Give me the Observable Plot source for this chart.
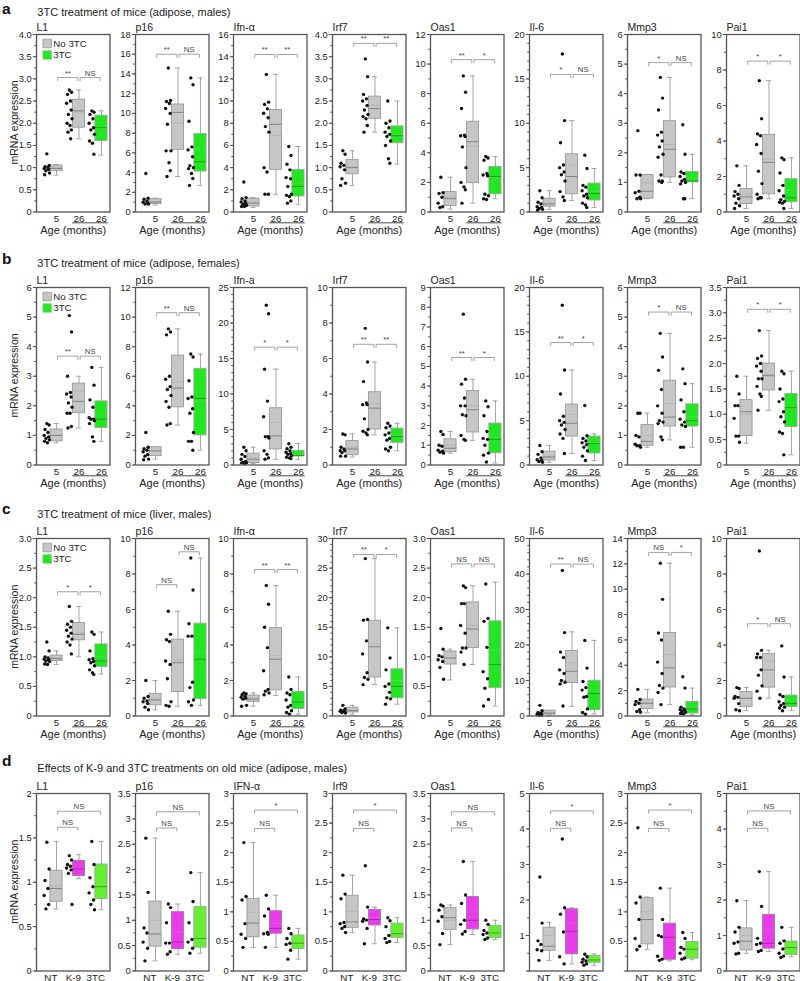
<!DOCTYPE html>
<html><head><meta charset="utf-8">
<script src="https://cdn.jsdelivr.net/npm/d3@7"></script>
<script src="https://cdn.jsdelivr.net/npm/@observablehq/plot@0.6"></script>
<style>
body{margin:0;background:#fff;width:800px;height:981px;overflow:hidden;position:relative;font-family:"Liberation Sans",Arial,sans-serif;}
.panel{position:absolute;overflow:visible;}
.panel svg{max-width:none !important;}
#overlay{position:absolute;left:0;top:0;}
</style></head><body>
<svg id="overlay" width="800" height="981"></svg>
<script>
// ---------------- DATA ----------------
const rowLetters = ["a","b","c","d"];
const rowTitles = [
  "3TC treatment of mice (adipose, males)",
  "3TC treatment of mice (adipose, females)",
  "3TC treatment of mice (liver, males)",
  "Effects of K-9 and 3TC treatments on old mice (adipose, males)"
];
const yAxisTitle = "mRNA expression";
const ageTitle = "Age (months)";
const xLabelsABC = ["5","26","26"];
const xLabelsD = ["NT","K-9","3TC"];
const legendLabels = ["No 3TC","3TC"];

// ---- Row a ----
const genesA = ["L1","p16","Ifn-α","Irf7","Oas1","Il-6","Mmp3","Pai1"];
const yMaxA = [4,18,16,4,12,20,6,10];
const yStepA = [0.5,2,2,0.5,2,5,1,2];
const pointsA = [
 [[1.31,1.05,1.02,1.0,0.98,0.96,0.93,0.88,0.84],[2.75,2.7,2.65,2.5,2.45,2.3,2.2,2.1,2.0,1.95,1.85,1.8,1.65],[2.28,2.25,2.2,2.1,2.0,1.9,1.85,1.75,1.6,1.55,1.3]],
 [[3.9,1.4,1.3,1.1,1.0,0.9,0.8,0.8],[14.6,11.3,11.2,11.0,10.5,10.0,8.9,6.2,6.2,5.0,4.2,3.6],[13.6,12.9,9.2,6.6,6.3,5.6,4.7,4.5,4.4,3.9,3.4,2.7]],
 [[2.7,1.3,1.2,1.0,0.9,0.8,0.7,0.6,0.5,0.5,0.6],[12.4,9.9,9.7,9.3,8.9,8.5,7.7,7.2,4.0,3.6,1.6,1.6],[5.9,5.1,4.3,3.8,3.1,3.0,2.3,1.6,1.5,1.4,1.0,0.8]],
 [[1.38,1.3,1.1,1.05,1.02,0.95,0.75,0.65,0.6],[3.45,3.05,2.65,2.55,2.5,2.4,2.3,2.2,2.15,2.1,1.95,1.8],[2.5,2.05,2.0,1.9,1.8,1.75,1.7,1.6,1.5,1.2,1.1]],
 [[2.35,1.3,1.25,1.0,0.6,0.35,0.3],[9.2,8.1,7.0,5.2,5.15,5.1,4.4,3.0,2.0,1.7,1.5,0.6],[3.75,3.65,3.5,2.6,2.5,2.45,1.2,1.1,0.9,0.85]],
 [[2.4,1.6,1.1,0.9,0.6,0.5,0.4,0.3,0.2],[17.8,10.3,7.8,5.3,5.0,4.5,4.2,3.5,2.3,1.7,1.3],[6.4,4.9,3.0,2.8,2.4,2.0,1.8,1.6,1.0,0.8,0.5]],
 [[2.75,1.25,1.25,0.7,0.65,0.5,0.45,0.45],[4.55,3.85,3.45,2.7,2.6,2.4,2.2,1.95,1.85,1.25,1.05,1.05,1.0],[2.95,1.95,1.35,1.3,1.2,1.1,1.05,1.0,0.95,0.45,0.45]],
 [[2.6,1.5,1.15,1.0,0.9,0.75,0.5,0.35,0.2],[7.4,5.25,4.4,4.3,3.8,3.3,2.3,1.6,1.0,0.8,0.8,0.75],[3.05,2.95,2.2,1.5,1.2,0.9,0.7,0.6,0.55,0.5,0.2]]
];
// [min, q1, median, mean, q3, max]
const boxesA = [
 [[0.83,0.92,0.98,1.0,1.05,1.07],[1.65,1.9,2.28,2.25,2.53,2.75],[1.28,1.6,1.9,1.88,2.17,2.28]],
 [[0.7,0.8,1.0,1.05,1.3,1.4],[3.6,6.3,10.1,9.0,10.9,14.6],[2.7,4.1,5.1,6.4,7.9,13.6]],
 [[0.4,0.5,0.8,0.9,1.2,1.3],[1.6,3.8,7.9,6.9,9.2,12.4],[0.7,1.4,2.3,2.6,3.8,5.9]],
 [[0.6,0.85,1.0,1.02,1.17,1.38],[1.8,2.1,2.33,2.4,2.6,3.05],[1.08,1.55,1.72,1.75,1.93,2.5]],
 [[0.2,0.4,0.9,1.0,1.35,2.35],[0.6,1.95,4.75,4.45,6.1,9.2],[0.9,1.2,2.4,2.3,3.05,3.75]],
 [[0.3,0.6,0.9,1.0,1.5,2.4],[1.3,2.0,4.0,5.3,6.5,10.3],[0.5,1.3,2.1,2.3,3.2,4.9]],
 [[0.45,0.45,0.7,0.98,1.25,1.25],[1.0,1.17,2.12,2.28,3.07,4.55],[0.45,1.0,1.05,1.13,1.35,1.95]],
 [[0.2,0.45,0.85,1.0,1.3,2.6],[0.75,1.0,2.8,2.98,4.35,7.4],[0.2,0.55,0.8,1.25,1.85,3.05]]
];
const sigA = [
 [[3.03,"**"],[3.03,"NS"]],[[16.0,"**"],[16.0,"NS"]],[[14.2,"**"],[14.2,"**"]],[[3.8,"**"],[3.8,"**"]],
 [[10.3,"**"],[10.3,"*"]],[[15.5,"*"],[15.5,"NS"]],[[5.05,"*"],[5.05,"NS"]],[[8.5,"*"],[8.5,"*"]]
];

// ---- Row b ----
const genesB = ["L1","p16","Ifn-a","Irf7","Oas1","Il-6","Mmp3","Pai1"];
const yMaxB = [6,12,25,10,9,20,6,3.5];
const yStepB = [1,2,5,2,1,5,1,0.5];
const pointsB = [
 [[1.4,1.35,1.2,1.1,1.0,0.95,0.9,0.85,0.8,0.75],[5.05,4.5,3.0,2.45,2.4,2.3,2.1,1.95,1.75,1.75,1.3,1.25],[3.3,2.7,2.2,1.95,1.6,1.55,1.55,1.5,1.4,0.95,0.8]],
 [[2.2,1.2,1.1,1.0,0.9,0.7,0.6,0.4,0.35],[9.2,9.0,8.8,6.0,5.8,5.3,5.1,4.7,4.3,3.9,2.8,2.7],[7.5,7.3,5.7,4.6,4.5,3.8,3.5,2.2,1.6,1.6,1.0]],
 [[2.5,2.0,1.5,1.2,0.8,0.5,0.4,0.3,0.3,0.2],[22.5,21.3,13.5,9.0,6.8,4.0,4.0,3.8,2.0,1.5,1.0,0.8],[3.0,2.5,2.3,2.0,1.8,1.6,1.5,1.3,1.1,1.0,0.9]],
 [[1.75,1.7,1.0,0.9,0.8,0.8,0.7,0.5,0.5],[7.7,5.8,4.7,3.5,3.4,3.4,2.6,2.0,1.9,1.8,1.7],[2.35,2.2,2.1,1.8,1.7,1.5,1.4,1.0,0.9,0.8]],
 [[1.7,1.55,1.0,0.95,0.75,0.7,0.65,0.6],[7.65,4.35,4.1,3.4,3.0,3.0,2.55,2.5,1.5,1.3,1.25],[3.25,2.95,2.5,1.7,1.35,1.3,1.0,0.6,0.5,0.15]],
 [[2.2,1.5,1.2,0.8,0.6,0.5,0.4,0.3],[18.0,10.7,8.0,5.5,5.0,4.8,4.5,4.0,3.5,3.0,1.3],[6.7,3.3,3.0,2.7,2.5,2.3,2.0,1.6,1.0,0.5]],
 [[1.75,1.75,1.0,0.95,0.7,0.65,0.65,0.6],[4.45,3.65,3.2,2.55,2.0,1.75,1.5,1.45,1.4,0.95,0.85],[3.25,2.75,2.2,1.8,1.55,1.45,1.35,1.3,0.6,0.6]],
 [[1.75,1.4,1.17,1.17,0.92,0.57,0.57,0.45],[2.65,2.15,2.1,2.0,1.95,1.85,1.7,1.7,1.55,1.4,1.35,1.08],[1.85,1.8,1.5,1.3,1.25,1.05,0.95,0.85,0.65,0.62,0.2]]
];
const boxesB = [
 [[0.75,0.8,1.0,1.0,1.2,1.4],[1.25,1.75,2.15,2.5,2.75,3.0],[0.8,1.25,1.55,1.7,2.15,3.3]],
 [[0.4,0.6,0.95,1.0,1.2,1.2],[2.7,3.9,5.2,5.6,7.4,9.2],[1.0,2.0,4.5,4.35,6.5,7.5]],
 [[0.2,0.3,0.8,1.0,1.6,2.5],[0.8,2.2,4.1,6.0,8.0,13.5],[0.8,1.2,1.35,1.5,2.0,3.0]],
 [[0.45,0.55,0.9,1.0,1.35,1.75],[1.7,2.0,3.2,3.45,4.1,5.8],[0.8,1.25,1.6,1.7,2.05,2.35]],
 [[0.6,0.65,0.85,1.0,1.3,1.7],[1.25,1.65,2.8,3.0,3.75,4.35],[0.1,0.6,1.3,1.4,2.1,3.25]],
 [[0.3,0.5,0.9,1.0,1.5,2.2],[1.3,3.2,4.7,5.7,6.8,10.7],[0.5,1.3,2.4,2.5,3.2,3.5]],
 [[0.6,0.65,0.8,1.0,1.35,1.75],[0.85,1.3,1.62,2.08,2.85,4.45],[0.6,1.3,1.5,1.65,2.05,2.75]],
 [[0.43,0.57,1.05,1.0,1.28,1.75],[1.08,1.47,1.77,1.75,2.0,2.65],[0.2,0.75,1.13,1.12,1.4,1.85]]
];
const sigB = [
 [[3.68,"**"],[3.68,"NS"]],[[10.3,"**"],[10.3,"NS"]],[[16.6,"*"],[16.6,"*"]],[[6.8,"**"],[6.8,"**"]],
 [[5.45,"**"],[5.45,"*"]],[[13.8,"**"],[13.8,"*"]],[[5.17,"*"],[5.17,"NS"]],[[3.07,"*"],[3.07,"*"]]
];

// ---- Row c ----
const genesC = ["L1","p16","Ifn-α","Irf7","Oas1","Il-6","Mmp3","Pai1"];
const yMaxC = [3,10,10,30,3,50,14,10];
const yStepC = [0.5,2,2,5,0.5,10,2,2];
const pointsC = [
 [[1.25,1.1,1.0,0.98,0.96,0.95,0.93,0.92,0.88,0.87],[1.85,1.6,1.55,1.5,1.45,1.4,1.35,1.3,1.25,1.2,1.05],[1.42,1.38,1.1,0.97,0.95,0.92,0.9,0.85,0.78,0.73,0.7]],
 [[2.0,1.1,1.0,0.85,0.8,0.7,0.5,0.35],[5.9,4.6,4.3,4.2,3.1,2.9,2.1,0.8,0.6,0.55],[8.9,7.1,5.2,4.5,4.5,1.9,1.6,0.9,0.8,0.6]],
 [[1.3,1.25,1.2,1.1,1.05,1.0,0.95,0.6,0.55],[7.35,6.3,5.0,3.85,2.55,1.5,1.4,1.3,1.2],[2.2,1.5,1.3,1.2,0.9,0.6,0.5,0.3,0.2,0.1]],
 [[1.8,1.2,1.0,0.9,0.8,0.7,0.6,0.5],[26.6,16.3,16.2,12.7,10.5,7.3,6.5,6.2,5.3],[14.9,9.8,7.8,5.4,5.0,4.0,3.1,2.9,2.0]],
 [[1.48,1.13,1.02,1.0,0.95,0.92,0.82,0.62],[2.2,2.17,1.9,1.9,1.53,1.4,1.15,1.15,1.08,0.87],[2.23,1.65,1.6,1.16,0.75,0.63,0.47,0.28,0.17]],
 [[3.0,1.5,1.0,0.8,0.5,0.3,0.2],[41.0,23.5,18.0,16.5,13.0,12.0,10.0,9.5,9.0,2.8],[21.3,13.5,9.7,8.0,7.3,5.5,5.3,2.0,1.0,0.5]],
 [[2.1,1.3,1.15,1.0,0.9,0.5,0.35,0.3],[12.05,9.2,6.55,6.0,4.25,3.35,2.4,2.2,1.85,0.9],[3.1,2.2,0.7,0.55,0.5,0.45,0.35,0.3,0.2,0.15]],
 [[1.6,1.55,1.1,1.05,1.0,0.7,0.35,0.3],[9.3,3.7,3.5,3.3,3.3,2.6,2.3,1.7,1.4,1.0],[3.95,2.2,1.2,1.1,0.8,0.7,0.6,0.5,0.45,0.3]]
];
const boxesC = [
 [[0.87,0.93,0.97,0.98,1.02,1.1],[1.0,1.28,1.38,1.4,1.57,1.85],[0.71,0.83,0.93,1.0,1.21,1.42]],
 [[0.35,0.6,0.9,0.95,1.25,2.0],[0.55,1.35,3.0,3.15,4.3,5.9],[0.6,0.95,3.2,3.6,5.2,8.9]],
 [[0.55,0.8,0.95,1.0,1.15,1.3],[1.15,1.45,3.2,3.4,4.95,7.35],[0.1,0.4,0.8,0.85,1.35,2.2]],
 [[0.3,0.6,0.9,1.0,1.4,1.8],[5.3,6.5,11.7,12.2,16.1,26.6],[2.0,3.0,5.0,6.0,7.9,14.9]],
 [[0.61,0.87,0.98,0.98,1.09,1.13],[0.87,1.15,1.47,1.53,1.92,2.2],[0.17,0.47,0.87,1.12,1.6,2.26]],
 [[0.2,0.4,0.8,0.9,1.5,1.5],[2.7,9.3,12.6,15.0,18.3,23.7],[0.6,1.7,6.3,7.4,9.9,21.3]],
 [[0.25,0.55,1.0,1.05,1.3,2.1],[0.9,2.25,3.8,4.85,6.55,12.05],[0.1,0.2,0.55,0.7,1.1,2.2]],
 [[0.3,0.5,1.0,1.0,1.35,1.6],[1.0,1.6,2.6,3.1,3.5,3.7],[0.3,0.5,0.7,0.9,1.15,2.2]]
];
const sigC = [
 [[2.1,"*"],[2.1,"*"]],[[7.4,"NS"],[9.25,"NS"]],[[8.25,"**"],[8.25,"**"]],[[27.3,"**"],[27.3,"*"]],
 [[2.57,"NS"],[2.57,"NS"]],[[42.8,"**"],[42.8,"NS"]],[[12.9,"NS"],[12.9,"*"]],[[5.2,"*"],[5.2,"NS"]]
];

// ---- Row d ----
const genesD = ["L1","p16","IFN-α","Irf9","Oas1","Il-6","Mmp3","Pai1"];
const yMaxD = [2,3.5,3,3,3.5,5,3,5];
const yStepD = [0.5,0.5,0.5,0.5,0.5,1,0.5,1];
const hideZeroD = [false,false,false,false,false,true,true,false];
const pointsD = [
 [[1.45,1.15,1.02,0.93,0.85,0.75,0.7],[1.3,1.25,1.2,1.18,1.16,1.14,1.1,0.75],[1.46,1.2,1.05,0.95,0.88,0.8,0.75,0.69]],
 [[2.62,1.55,0.85,0.75,0.57,0.45,0.2],[1.32,1.25,0.95,0.55,0.55,0.38,0.33],[1.94,1.37,0.95,0.62,0.57,0.45,0.35]],
 [[2.17,1.26,1.2,0.8,0.62,0.55,0.4],[1.28,1.05,0.93,0.65,0.63,0.62,0.4],[0.72,0.63,0.55,0.47,0.45,0.35,0.2]],
 [[1.62,1.3,1.22,0.82,0.8,0.75,0.72,0.65],[1.78,1.08,0.88,0.86,0.84,0.72,0.46],[0.9,0.85,0.75,0.6,0.55,0.5,0.48]],
 [[1.3,1.28,1.2,1.07,0.98,0.74,0.52],[2.16,1.5,1.33,1.0,0.92,0.78,0.73],[1.0,0.92,0.8,0.75,0.72,0.65,0.62]],
 [[2.65,1.35,0.85,0.75,0.6,0.57,0.3],[3.72,1.78,1.6,1.1,0.4,0.2],[0.47,0.4,0.33,0.28,0.25,0.2,0.16]],
 [[2.42,1.25,1.15,0.87,0.55,0.42,0.36],[1.4,0.87,0.6,0.58,0.25,0.2,0.18],[0.65,0.55,0.4,0.37,0.3,0.22,0.2]],
 [[1.98,1.23,1.1,0.82,0.78,0.5,0.48],[2.8,1.82,0.92,0.78,0.75,0.58,0.55],[1.23,0.85,0.78,0.62,0.5,0.42,0.38]]
];
const boxesD = [
 [[0.7,0.78,0.93,0.96,1.13,1.46],[1.04,1.07,1.15,1.16,1.24,1.31],[0.69,0.81,0.95,1.01,1.2,1.46]],
 [[0.2,0.48,0.73,1.0,1.37,2.62],[0.33,0.43,0.57,0.77,1.16,1.32],[0.35,0.46,0.64,0.89,1.26,1.94]],
 [[0.4,0.57,0.81,0.99,1.22,2.17],[0.4,0.63,0.72,0.8,1.01,1.28],[0.2,0.37,0.47,0.47,0.6,0.72]],
 [[0.65,0.73,0.83,1.01,1.27,1.62],[0.46,0.77,0.87,0.9,1.03,1.08],[0.48,0.56,0.63,0.66,0.8,0.9]],
 [[0.52,0.81,1.05,1.0,1.24,1.3],[0.72,0.82,1.0,1.2,1.46,2.16],[0.62,0.65,0.75,0.78,0.89,1.0]],
 [[0.3,0.57,0.7,1.0,1.22,1.37],[0.2,0.47,1.12,1.35,1.74,1.78],[0.16,0.23,0.31,0.32,0.43,0.48]],
 [[0.36,0.45,0.87,1.0,1.23,1.25],[0.17,0.19,0.57,0.57,0.8,1.4],[0.19,0.21,0.37,0.37,0.49,0.65]],
 [[0.5,0.58,0.84,1.0,1.2,1.98],[0.55,0.63,0.78,1.17,1.58,2.8],[0.4,0.45,0.66,0.63,0.83,1.23]]
];
const sigD = [
 [[1.62,"NS"],[1.8,"NS"]],[[2.82,"NS"],[3.14,"NS"]],[[2.41,"NS"],[2.72,"*"]],[[2.41,"NS"],[2.72,"*"]],
 [[2.82,"NS"],[3.14,"NS"]],[[4.02,"NS"],[4.51,"*"]],[[2.41,"NS"],[2.72,"*"]],[[4.02,"NS"],[4.51,"NS"]]
];

// comparisons (group index pairs)
const pairsABC = [[0,1],[1,2]];
const pairsD = [[0,1],[0,2]];

// colours
const fillsABC = ["#c6c6c6","#c6c6c6","#22e622"];
const fillsD = ["#c6c6c6","#e83ce8","#66ee33"];
const strokesABC = ["#9a9a9a","#9a9a9a","#8fb08f"];
const strokesD = ["#9a9a9a","#a878a8","#8fb08f"];
const medABC = ["#7c7c7c","#7c7c7c","#1a9a1a"];
const meanABC = ["#a9a9a9","#a9a9a9","#70cf70"];
const medD = ["#7c7c7c","#a020a0","#3a9a1a"];
const meanD = ["#a9a9a9","#d070d0","#88cf60"];

// ---------------- LAYOUT ----------------
const FRAME_W = 73.5, FRAME_H = 177.5, ML = 30, MR = 3, MT = 16;
const frameTops = [33.7, 286.7, 538, 793];
const frameLeft0 = 36, panelStep = 98.5;
const X_DOMAIN = [-0.89, 2.38];
const BW = 0.27, CAP = 0.11, PT_OFF = -0.43;
const jitter = [0, 0.1, -0.08, 0.05, -0.12, 0.08, -0.04, 0.12, -0.1, 0.03, 0.09, -0.06, 0.06];

const rows = [
 {genes:genesA,yMax:yMaxA,yStep:yStepA,points:pointsA,boxes:boxesA,sig:sigA,pairs:pairsABC,xLabels:xLabelsABC,xShift:0,fills:fillsABC,strokes:strokesABC,medC:medABC,meanC:meanABC,legend:true,age:true,fixed1:true,hideZero:null},
 {genes:genesB,yMax:yMaxB,yStep:yStepB,points:pointsB,boxes:boxesB,sig:sigB,pairs:pairsABC,xLabels:xLabelsABC,xShift:0,fills:fillsABC,strokes:strokesABC,medC:medABC,meanC:meanABC,legend:true,age:true,fixed1:true,hideZero:null},
 {genes:genesC,yMax:yMaxC,yStep:yStepC,points:pointsC,boxes:boxesC,sig:sigC,pairs:pairsABC,xLabels:xLabelsABC,xShift:0,fills:fillsABC,strokes:strokesABC,medC:medABC,meanC:meanABC,legend:true,age:true,fixed1:true,hideZero:null},
 {genes:genesD,yMax:yMaxD,yStep:yStepD,points:pointsD,boxes:boxesD,sig:sigD,pairs:pairsD,xLabels:xLabelsD,xShift:-0.25,fills:fillsD,strokes:strokesD,medC:medD,meanC:meanD,legend:false,age:false,fixed1:false,hideZero:hideZeroD}
];

const FONT = '"Liberation Sans", Arial, sans-serif';

function makePanel(R, i) {
  const ymax = R.yMax[i], step = R.yStep[i];
  const major = d3.range(0, ymax + step / 2, step);
  const minorStep = (step === 5 || step === 10) ? step / 5 : step / 2;
  const minor = d3.range(0, ymax + minorStep / 2, minorStep);
  const hideZero = R.hideZero ? R.hideZero[i] : false;
  const fmt = d => {
    if (d === 0) return hideZero ? "" : "0";
    if (Number.isInteger(step)) return String(d);
    return R.fixed1 ? d.toFixed(1) : String(+d.toFixed(2));
  };
  const pts = [];
  R.points[i].forEach((arr, g) => arr.forEach((v, k) => pts.push({x: g + PT_OFF + jitter[k % jitter.length], y: v})));
  const bx = R.boxes[i].map((b, g) => ({g, min: b[0], q1: b[1], med: b[2], mean: b[3], q3: b[4], max: b[5]}));
  const tk = ymax * 0.018;
  const brLines = [], brLabels = [];
  R.sig[i].forEach((s, k) => {
    const [a, c] = R.pairs[k];
    const x1 = a + 0.05, x2 = c - 0.05;
    brLines.push({z: k, x: x1, y: s[0] - tk}, {z: k, x: x1, y: s[0]}, {z: k, x: x2, y: s[0]}, {z: k, x: x2, y: s[0] - tk});
    brLabels.push({x: (a + c) / 2, y: s[0], t: s[1]});
  });
  const whisk = "#9a9a9a";
  const marks = [
    Plot.axisY({ticks: minor, tickSize: 1.8, tickFormat: () => "", label: null, stroke: "#555"}),
    Plot.axisY({ticks: major, tickSize: 3.2, tickPadding: 1.5, tickFormat: fmt, label: null, fontSize: 9.4, stroke: "#555", fill: "#222"}),
    Plot.ruleX(bx, {x: "g", y1: "min", y2: "q1", stroke: whisk, strokeWidth: 0.9}),
    Plot.ruleX(bx, {x: "g", y1: "q3", y2: "max", stroke: whisk, strokeWidth: 0.9}),
    Plot.ruleY(bx, {y: "min", x1: d => d.g - CAP, x2: d => d.g + CAP, stroke: whisk, strokeWidth: 0.9}),
    Plot.ruleY(bx, {y: "max", x1: d => d.g - CAP, x2: d => d.g + CAP, stroke: whisk, strokeWidth: 0.9}),
    Plot.rect(bx, {x1: d => d.g - BW, x2: d => d.g + BW, y1: "q1", y2: "q3", fill: d => R.fills[d.g], stroke: d => R.strokes[d.g], strokeWidth: 0.9}),
    Plot.ruleY(bx, {y: "mean", x1: d => d.g - BW, x2: d => d.g + BW, stroke: d => R.meanC[d.g], strokeWidth: 0.9, strokeDasharray: "1.5,1"}),
    Plot.ruleY(bx, {y: "med", x1: d => d.g - BW, x2: d => d.g + BW, stroke: d => R.medC[d.g], strokeWidth: 0.9}),
    Plot.dot(pts, {x: "x", y: "y", r: 1.7, fill: "#111"}),
    Plot.line(brLines, {x: "x", y: "y", z: "z", stroke: "#8a8a8a", strokeWidth: 0.8}),
    Plot.text(brLabels, {x: "x", y: "y", text: "t", dy: -2, lineAnchor: "bottom", fontSize: 7.8, fill: "#444"}),
    Plot.text(R.xLabels, {x: (d, j) => j + R.xShift, text: d => d, frameAnchor: "bottom", dy: 9.5, lineAnchor: "bottom", fontSize: 9.8, fill: "#222"}),
    Plot.text([R.genes[i]], {text: d => d, frameAnchor: "top-left", dy: -3.5, lineAnchor: "bottom", textAnchor: "start", fontSize: 10.5, fill: "#222"}),
    Plot.frame({stroke: "#555", strokeWidth: 1.3})
  ];
  if (R.age) {
    marks.push(Plot.ruleY([0], {x1: 0.72, x2: 2.3, dy: 10.8, stroke: "#333", strokeWidth: 0.9}));
    marks.push(Plot.text([ageTitle], {text: d => d, frameAnchor: "bottom", dy: 21.5, lineAnchor: "bottom", fontSize: 11, fill: "#222"}));
  }
  if (R.legend && i === 0) {
    marks.push(Plot.dot([legendLabels[0]], {frameAnchor: "top-left", dx: 10.7, dy: 9, symbol: "square", r: 4.8, fill: R.fills[0], stroke: "#999", strokeWidth: 0.8}));
    marks.push(Plot.dot([legendLabels[1]], {frameAnchor: "top-left", dx: 10.7, dy: 20.5, symbol: "square", r: 4.8, fill: R.fills[2], stroke: "#8c8", strokeWidth: 0.8}));
    marks.push(Plot.text([legendLabels[0]], {text: d => d, frameAnchor: "top-left", dx: 16.8, dy: 9, lineAnchor: "middle", textAnchor: "start", fontSize: 9.7, fill: "#222"}));
    marks.push(Plot.text([legendLabels[1]], {text: d => d, frameAnchor: "top-left", dx: 16.8, dy: 20.5, lineAnchor: "middle", textAnchor: "start", fontSize: 9.7, fill: "#222"}));
  }
  const MB = R.age ? 30 : 14;
  const svg = Plot.plot({
    width: ML + FRAME_W + MR,
    height: MT + FRAME_H + MB,
    marginLeft: ML, marginRight: MR, marginTop: MT, marginBottom: MB,
    x: {domain: X_DOMAIN, axis: null},
    y: {domain: [0, ymax]},
    color: {type: "identity"},
    style: {fontFamily: FONT, fontSize: "9px", background: "transparent", overflow: "visible", color: "#222", maxWidth: "none"},
    marks
  });
  svg.style.maxWidth = "none";
  return svg;
}

rows.forEach((R, r) => {
  for (let i = 0; i < 8; i++) {
    const div = document.createElement("div");
    div.className = "panel";
    div.style.left = (frameLeft0 + i * panelStep - ML) + "px";
    div.style.top = (frameTops[r] - MT) + "px";
    div.style.width = (ML + FRAME_W + MR) + "px";
    div.appendChild(makePanel(R, i));
    document.body.appendChild(div);
  }
});

// overlay texts: row letters, row titles, y-axis titles
const ov = d3.select("#overlay");
const letterBase = [14, 264, 514, 766];
const titleBase = [15.8, 267, 518, 772];
rows.forEach((R, r) => {
  ov.append("text").attr("x", 2).attr("y", letterBase[r]).attr("font-family", FONT).attr("font-weight", "bold").attr("font-size", 15.5).attr("fill", "#111").text(rowLetters[r]);
  ov.append("text").attr("x", 37.3).attr("y", titleBase[r]).attr("font-family", FONT).attr("font-size", 11).attr("fill", "#222").text(rowTitles[r]);
  const cy = frameTops[r] + FRAME_H / 2;
  ov.append("text").attr("transform", `translate(17.5,${cy}) rotate(-90)`).attr("text-anchor", "middle").attr("font-family", FONT).attr("font-size", 10.5).attr("fill", "#222").text(yAxisTitle);
});
</script>
</body></html>
